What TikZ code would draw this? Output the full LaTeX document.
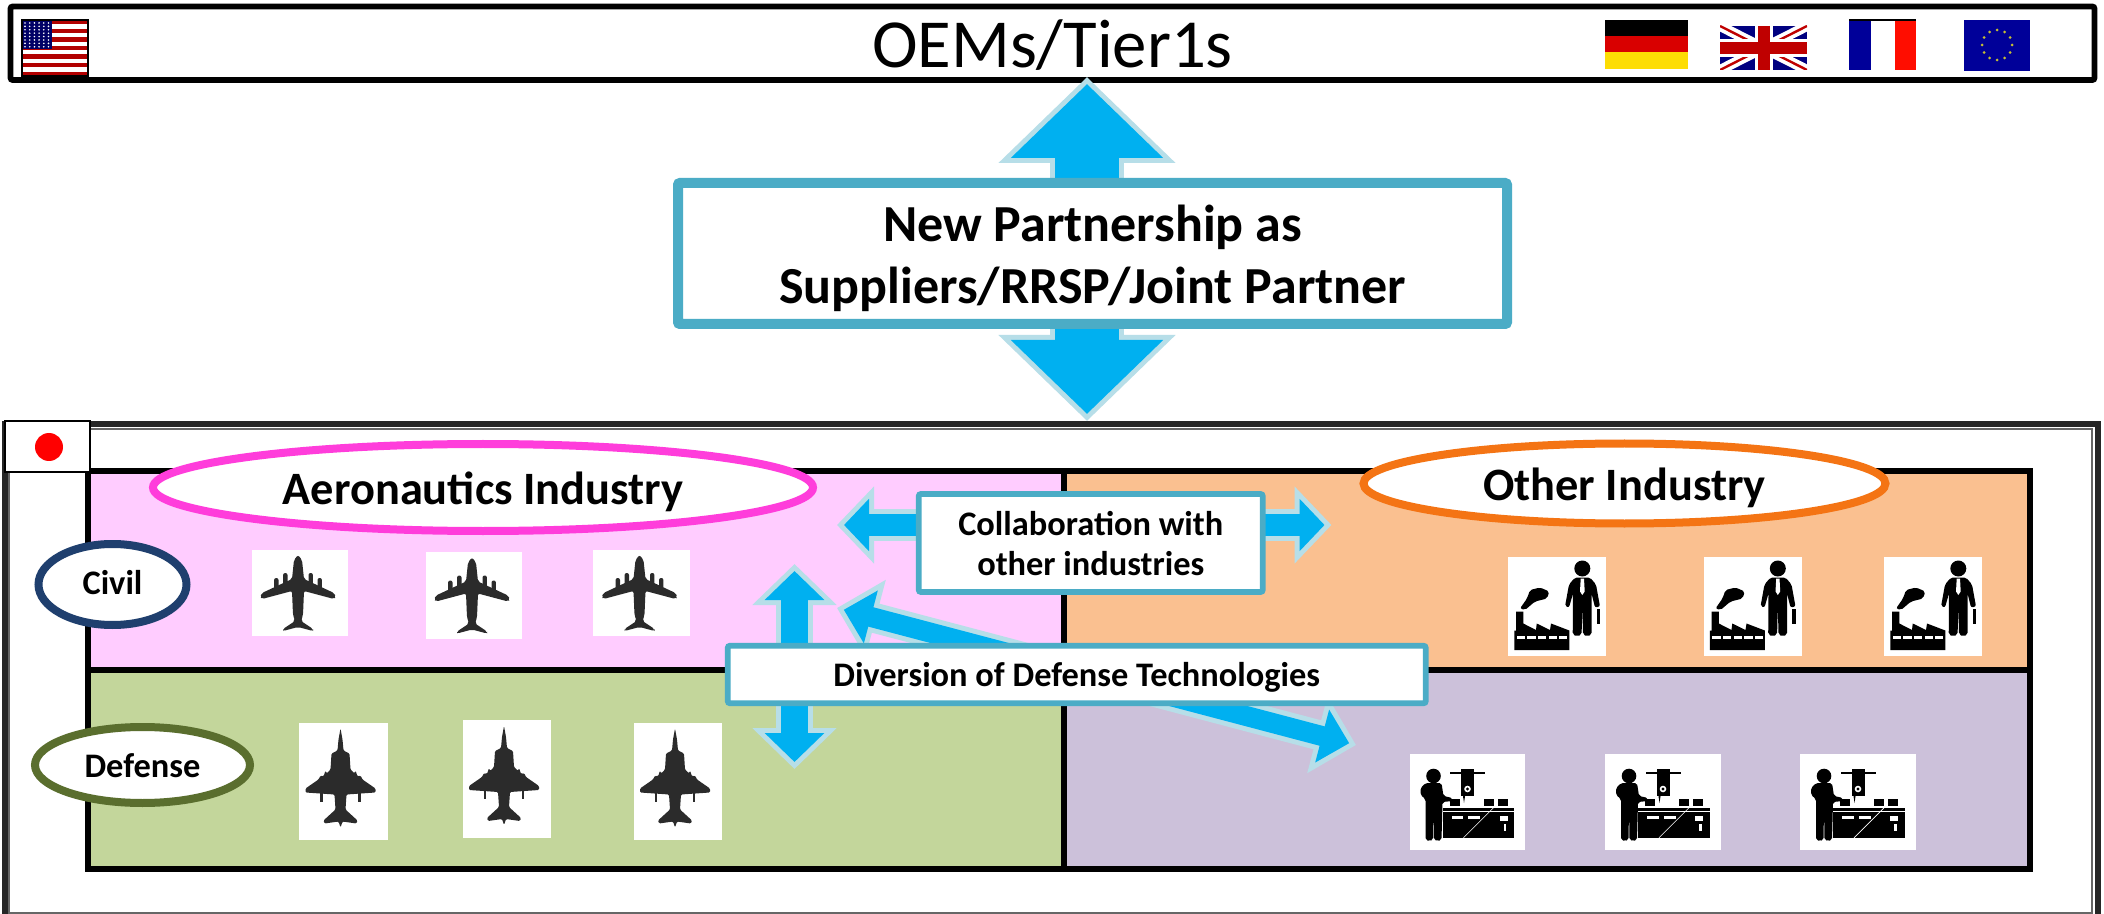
\documentclass[tikz,border=0pt]{standalone}
\usepackage{fontspec}
\setmainfont{Carlito}
\usetikzlibrary{arrows.meta,calc,shapes.geometric}
\definecolor{flowblue}{HTML}{00B0F0}
\definecolor{flowedge}{HTML}{B7DEE8}
\definecolor{boxteal}{HTML}{4BACC6}
\definecolor{civilpink}{HTML}{FFCCFF}
\definecolor{civilorange}{HTML}{FAC090}
\definecolor{defgreen}{HTML}{C3D69B}
\definecolor{defpurple}{HTML}{CCC1DA}
\definecolor{aeroring}{HTML}{FF3DDB}
\definecolor{otherring}{HTML}{F47414}
\definecolor{civilring}{HTML}{1F3F6E}
\definecolor{defring}{HTML}{5A6E2E}
\definecolor{planegrey}{HTML}{2B2B2B}
\tikzset{
	bluebox/.style={draw=boxteal,fill=white,rounded corners=1pt,align=center,inner sep=0pt,font=\bfseries\fontsize{17.2}{20.5}\selectfont},
	ring/.style={ellipse,draw,fill=white,inner sep=0pt,line width=4pt,font=\bfseries},
	quad/.style={draw=black,line width=2.8pt},
	iconbox/.style={fill=white,inner sep=0pt},
	airliner/.pic={
		\fill[planegrey,rounded corners=1pt] (0,-38) -- (4,-33) -- (6,-14) -- (36,0) -- (38,4) -- (36,6) -- (6,-2) -- (5,22) -- (3,28) -- (15,36) -- (15,38) -- (0,34)
			-- (-15,38) -- (-15,36) -- (-3,28) -- (-5,22) -- (-6,-2) -- (-36,6) -- (-38,4) -- (-36,0) -- (-6,-14) -- (-4,-33) -- cycle;
		\foreach \e/\t in {12.7/-20,21.7/-15,-12.7/-20,-21.7/-15}
			\fill[planegrey,rounded corners=1pt] (\e-2.2,\t) rectangle (\e+2.2,\t+12);
	},
	fighter/.pic={
		\fill[planegrey,rounded corners=.6pt] (0,-53) -- (2,-42) -- (3,-31) -- (9,-28) -- (10,-12) -- (14,-8) -- (15,-11) -- (17,-5) -- (20,-6) -- (22,-2) -- (35,7) -- (35,11) -- (6,13)
			-- (5,28) -- (17,39) -- (16,42) -- (2,40) -- (0,46) -- (-2,40) -- (-16,42) -- (-17,39) -- (-5,28) -- (-6,13) -- (-35,11) -- (-35,7) -- (-22,-2)
			-- (-20,-6) -- (-17,-5) -- (-15,-11) -- (-14,-8) -- (-10,-12) -- (-9,-28) -- (-3,-31) -- (-2,-42) -- cycle;
		\foreach \e in {-19,19}
			\fill[planegrey] (\e-1.2,10) rectangle (\e+1.2,20);
	},
	boss/.pic={
		\fill (25.3,-38) circle (8);
		\fill[rounded corners=1pt] (18,-29) -- (33,-29) -- (39,-22) -- (43,0) -- (38,1) -- (34.5,-13) -- (34.7,28) -- (30,30) -- (26,28) -- (25.3,-1) -- (24.6,28) -- (20,30) -- (15.7,28) -- (16,-13) -- (12,1) -- (8,0) -- (12,-22) -- cycle;
		\fill (39.5,2) rectangle (43,17.5);
		\fill[white] (23.7,-28) -- (27,-28) -- (27.7,-15) -- (25.3,-11.5) -- (23,-15) -- cycle;
		\fill (-42.7,43.5) -- (-42.7,24) -- (-41,24) -- (-41,5.2) -- (-33.7,5.2) -- (-33.7,17) -- (-21,23.5) -- (-20.3,17) -- (-7,23.5) -- (-6,17) -- (12.3,24) -- (12.3,43.5) -- cycle;
		\foreach \w in {-40.3,-29.6,-19,-8.3,2}
			\fill[white] (\w,29.3) rectangle (\w+8.3,32.8);
		\fill[rounded corners=1pt] (-37,2) -- (-30,-8) -- (-27,-16.5) -- (-17,-19) -- (-7.7,-15) -- (-10,-8) -- (-22,-5) -- (-32,3.5) -- cycle;
	},
	worker/.pic={
		\fill (-34,-26) circle (7.3);
		\fill[rounded corners=1pt] (-42,-19) -- (-26,-19) -- (-24,-6) -- (-15,-4) -- (-15,-1) -- (-25,0) -- (-26,38) -- (-30,39) -- (-33.5,38) -- (-34,6) -- (-34.5,38) -- (-38,39) -- (-42,38) -- (-42,-3) -- (-47,-7) -- (-47,-14) -- cycle;
		\fill (-24.8,5.8) rectangle (46.8,9.2);
		\fill (-24.8,10.2) rectangle (46.8,35.8);
		\foreach \b in {-18,16,30}
			\fill (\b,-3) rectangle (\b+10,3.5);
		\fill (-6.5,-33) rectangle (6.5,-5.8);
		\fill (-4.5,-5.8) -- (-2.5,-5.8) -- (-3.5,1) -- cycle;
		\fill (-17.5,-30) rectangle (17.5,-28.5);
		\fill[white] (0,-13) circle (3.3);
		\fill (0,-13) circle (1.7);
		\foreach \w in {-16,0.8}
			\fill[white] (\w,14) rectangle (\w+11.7,17);
		\fill[white] (32,13.5) rectangle (40,19);
		\fill[white] (36,21.5) rectangle (38.5,29);
		\draw[white,line width=.3pt] (-4,35.8) -- (26,5.8);
	}
}
\newcommand{\flowarrow}[5]{%
	\pgfmathsetmacro{\coreshaft}{#3-5}
	\pgfmathsetmacro{\corelen}{#4-6}
	\pgfmathsetmacro{\corewid}{#5-12}
	\draw[flowedge,line width=#3pt,{Triangle[length=#4pt,width=#5pt]}-{Triangle[length=#4pt,width=#5pt]}] (#1) -- (#2);
	\draw[flowblue,line width=\coreshaft pt,shorten <=3.5pt,shorten >=3.5pt,{Triangle[length=\corelen pt,width=\corewid pt]}-{Triangle[length=\corelen pt,width=\corewid pt]}] (#1) -- (#2);
}
\newcommand{\dropped}[2]{\raisebox{-#1}[0pt][0pt]{\begin{tabular}[b]{@{}c@{}}#2\end{tabular}}}
\begin{document}
\begin{tikzpicture}[x=0.5pt,y=-0.5pt]
	\useasboundingbox (0,0) rectangle (2104,914);
	\fill[white] (0,0) rectangle (2104,914);

	\node[draw=black,line width=2.8pt,fill=white,rounded corners=1pt,minimum width=1042pt,minimum height=36.75pt,inner sep=0pt,font=\fontsize{34.4}{34}\selectfont] (oems) at (1052.5,43.25) {\dropped{12pt}{OEMs/Tier1s}};

	\fill[white] (22,20) rectangle (88,76);
	\foreach \s in {0,2,...,12}
		\fill[red!70!black] (22,20+\s*4.31) rectangle (88,20+\s*4.31+4.31);
	\fill[blue!40!black] (22,20) rectangle (52,49);
	\foreach \r in {0,...,7}
		\foreach \c in {0,...,5}
			\fill[white] (25+\c*4.7,23+\r*3.4) circle (0.9);
	\draw[black,line width=.6pt] (22,20) rectangle (88,76);

	\fill[black] (1605,20) rectangle (1688,36.5);
	\fill[red!85!black] (1605,36.5) rectangle (1688,52.5);
	\fill[yellow!80!orange] (1605,52.5) rectangle (1688,69);

	\begin{scope}
		\clip (1720,26) rectangle (1807,70);
		\fill[blue!50!black] (1720,26) rectangle (1807,70);
		\draw[white,line width=5pt] (1720,26) -- (1807,70) (1720,70) -- (1807,26);
		\draw[red!75!black,line width=1.2pt] (1720,26) -- (1807,70) (1720,70) -- (1807,26);
		\draw[white,line width=9pt] (1763.5,26) -- (1763.5,70) (1720,48) -- (1807,48);
		\draw[red!75!black,line width=6pt] (1763.5,26) -- (1763.5,70) (1720,48) -- (1807,48);
	\end{scope}

	\fill[blue!60!black] (1849,20) rectangle (1871,70);
	\fill[red!90!orange] (1895,20) rectangle (1916,70);
	\draw[black,line width=.6pt] (1849,20) -- (1916,20);

	\fill[blue!60!black] (1964,20) rectangle (2030,71);
	\foreach \a in {0,30,...,330}
		\fill[yellow!75!black] ($(1997,45)+(\a:15)$) circle (1.5);

	\draw[black!85,line width=2.8pt] (5,914) -- (5,424) -- (2098,424) -- (2098,914);
	\draw[black!60,line width=.8pt] (9,913) -- (9,429) -- (2092,429) -- (2092,913) -- cycle;

	\draw[quad,fill=civilpink] (88,471) rectangle (1064,670);
	\draw[quad,fill=civilorange] (1064,471) rectangle (2030,670);
	\draw[quad,fill=defgreen] (88,670) rectangle (1064,869);
	\draw[quad,fill=defpurple] (1064,670) rectangle (2030,869);

	\draw[black,line width=.8pt,fill=white] (5,421) rectangle (90,472);
	\fill[red] (49,447) circle (14);

	\node[ring,draw=aeroring,minimum width=330pt,minimum height=43.5pt,font=\bfseries\fontsize{23.2}{23}\selectfont] (aero) at (483,487.5) {\dropped{8.6pt}{Aeronautics Industry}};
	\node[ring,draw=otherring,minimum width=261pt,minimum height=40pt,font=\bfseries\fontsize{23.2}{23}\selectfont] (other) at (1624.5,483.5) {\dropped{8.4pt}{Other Industry}};
	\node[ring,draw=civilring,minimum width=74pt,minimum height=40.5pt,font=\bfseries\fontsize{17.2}{17}\selectfont] (civil) at (112.5,584.5) {\dropped{5.2pt}{Civil}};
	\node[ring,draw=defring,minimum width=107.5pt,minimum height=38pt,font=\bfseries\fontsize{17.2}{17}\selectfont] (defense) at (142.5,765) {\dropped{6pt}{Defense}};

	\foreach \x/\y/\w/\h in {300/593/48/43,474/595.5/48/43.5,641.5/593/48.5/43}
		\path (\x,\y) node[iconbox,minimum width=\w pt,minimum height=\h pt] {} pic at (\x-2,\y) {airliner};
	\foreach \x/\y/\w/\h in {343.5/781.5/44.5/58.5,507/779/44/59,678/781.5/44/58.5}
		\path (\x,\y) node[iconbox,minimum width=\w pt,minimum height=\h pt] {} pic at (\x-3,\y) {fighter};
	\foreach \x in {1557,1752.5,1933}
		\path (\x,606.5) node[iconbox,minimum width=49pt,minimum height=49.5pt] {} pic at (\x,606.5) {boss};
	\foreach \x/\w in {1467.5/57.5,1663/58,1858/58}
		\path (\x,802) node[iconbox,minimum width=\w pt,minimum height=48pt] {} pic at (\x,802) {worker};

	\coordinate (oemsport) at (1087,77);
	\coordinate (groupport) at (1087,421);
	\coordinate (collabaero) at (837,525);
	\coordinate (collabother) at (1331.5,525);
	\coordinate (upcivil) at (794.5,564);
	\coordinate (updefense) at (794.5,769);
	\coordinate (divaero) at (837,608);
	\coordinate (divother) at (1356,745);

	\flowarrow{oemsport}{groupport}{37}{43}{86}
	\flowarrow{collabaero}{collabother}{16}{18.5}{37.5}
	\flowarrow{upcivil}{updefense}{18.5}{20.5}{41}
	\flowarrow{divaero}{divother}{15}{20}{38.5}

	\node[bluebox,line width=5pt,minimum width=414.5pt,minimum height=70.5pt,font=\bfseries\fontsize{26}{31.4}\selectfont] (partner) at (1092.5,253.5) {\dropped{25.2pt}{New Partnership as\\Suppliers/RRSP/Joint Partner}};
	\node[bluebox,line width=2.8pt,minimum width=172pt,minimum height=49pt] (collab) at (1090.75,543) {\dropped{16.5pt}{Collaboration with\\other industries}};
	\node[bluebox,line width=2.8pt,minimum width=349pt,minimum height=28.75pt] (diversion) at (1076.75,674.5) {\dropped{6.2pt}{Diversion of Defense Technologies}};
\end{tikzpicture}
\end{document}
